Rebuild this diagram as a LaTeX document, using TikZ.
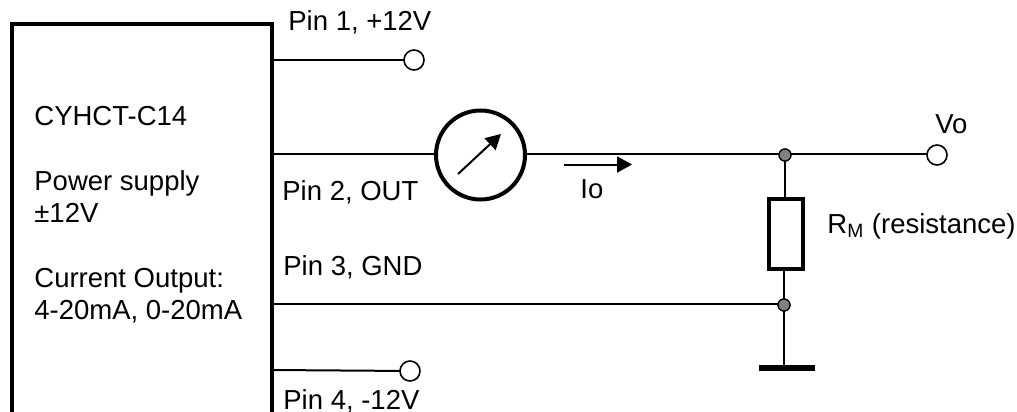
\documentclass[tikz,border=0pt]{standalone}
\usepackage{fontspec}
\setmainfont{Liberation Sans}
\usetikzlibrary{arrows.meta}
\tikzset{
  wire/.style = {line width = 1pt},
  label/.style = {anchor = base west, inner sep = 0, font = \fontsize{13.75}{16}\selectfont},
  terminal/.style = {circle, draw, fill = white, line width = .8pt, minimum size = 10pt, inner sep = 0, outer sep = 0},
  junction/.style = {circle, draw, fill = gray, line width = .6pt, minimum size = 6pt, inner sep = 0, outer sep = 0},
  pointer/.style = {wire, -{Triangle[length = 7.5pt, width = 8pt]}},
}
\begin{document}
\begin{tikzpicture}[x = .5pt, y = -.5pt]
  \useasboundingbox (0, 0) rectangle (1017, 412);
  % module outline, open at the bottom edge
  \draw[line width = 2.2pt] (12, 412)--(12, 24)--(272, 24)--(272, 412);
  \coordinate (pinone) at (272, 60);
  \coordinate (pintwo) at (272, 154);
  \coordinate (pinthree) at (272, 304);
  \coordinate (pinfour) at (272, 370);
  \node[terminal] (termone) at (414, 60) {};
  \node[terminal] (termfour) at (410, 371) {};
  \node[terminal] (termvo) at (937, 155) {};
  \node[circle, draw, line width = 2pt, minimum size = 44.5pt, inner sep = 0, outer sep = 0] (meter) at (480.5, 155) {};
  \node[draw, line width = 2pt, minimum width = 17pt, minimum height = 35pt, inner sep = 0, outer sep = 0] (shunt) at (785.5, 233.5) {};
  \node[junction] (jtop) at (785, 155) {};
  \node[junction] (jbottom) at (784, 305) {};
  \coordinate (gnd) at (784, 368);
  \coordinate (gndleft) at (759, 368);
  \coordinate (gndright) at (815, 368);
  % wires
  \draw[wire] (pinone)--(termone);
  \draw[wire] (pinfour)--(termfour);
  \draw[wire] (pintwo)--(meter.west |- pintwo);
  \draw[wire] (meter.east |- pintwo)--(jtop.west |- pintwo)--(termvo.west |- pintwo);
  \draw[wire] (pinthree)--(jbottom.west |- pinthree);
  \draw[wire] (jtop)--(jtop |- shunt.north);
  \draw[wire] (jbottom |- shunt.south)--(jbottom);
  \draw[wire] (jbottom)--(gnd);
  \draw[line width = 3pt] (gndleft)--(gndright);
  \node[junction] at (jtop) {};
  \node[junction] at (jbottom) {};
  % arrows
  \coordinate (needlea) at (458, 174);
  \coordinate (needleb) at (501, 134);
  \coordinate (ioa) at (564, 164.5);
  \coordinate (iob) at (632, 164.5);
  \draw[pointer] (needlea)--(needleb);
  \draw[pointer] (ioa)--(iob);
  % texts
  \node[label] (pinonetext) at (288, 31) {Pin 1, +12V};
  \node[label] (pintwotext) at (282, 200) {Pin 2, OUT};
  \node[label] (pinthreetext) at (283, 275) {Pin 3, GND};
  \node[label] (pinfourtext) at (283, 409) {Pin 4, -12V};
  \node[label] (nametext) at (34, 125) {CYHCT-C14};
  \node[label] (supplytext) at (34, 190) {Power supply};
  \node[label] (rangetext) at (34, 222) {±12V};
  \node[label] (outputtext) at (34, 287) {Current Output:};
  \node[label] (currenttext) at (34, 319) {4-20mA, 0-20mA};
  \node[label] (votext) at (935, 133) {Vo};
  \node[label] (iotext) at (580, 198) {Io};
  \node[label] (shunttext) at (827, 233) {R\textsubscript{M} (resistance)};
\end{tikzpicture}
\end{document}
